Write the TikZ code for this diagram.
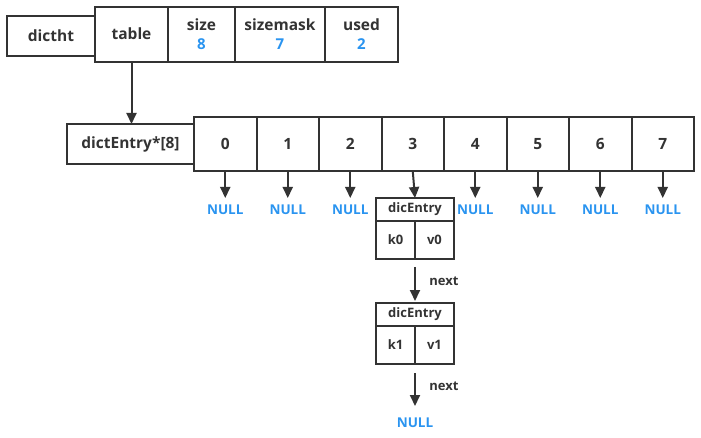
\documentclass[tikz,border=0pt]{standalone}
\usepackage{fontspec}
\setmainfont{Open Sans}
\usetikzlibrary{arrows.meta}
\definecolor{ink}{HTML}{333333}
\definecolor{nullblue}{HTML}{2A94F0}
\begin{document}
\begin{tikzpicture}[x=1pt,y=-1pt,
  box/.style={draw=ink,line width=2pt},
  lbl/.style={text=ink,font=\bfseries\fontsize{15.5}{17}\selectfont},
  small/.style={text=ink,font=\bfseries\fontsize{13}{15}\selectfont},
  num/.style={text=nullblue,font=\bfseries\fontsize{15}{17}\selectfont},
  nul/.style={text=nullblue,font=\bfseries\fontsize{13.5}{15}\selectfont},
  link/.style={draw=ink,line width=2pt,-{Triangle[length=11pt,width=10pt]}}]
\useasboundingbox (0,0) rectangle (701,438);

% dictht header
\draw[box] (7,16) rectangle (95,56);
\node[lbl] (dictht) at (51,36) {dictht};
\draw[box] (95,7) rectangle (398,62);
\foreach \x in {168,235,325} \draw[box] (\x,7) -- (\x,62);
\node[lbl] (table) at (131.5,34) {table};
\node[lbl] (size) at (201.5,25) {size};
\node[num] at (201.5,44) {8};
\node[lbl] (sizemask) at (280,25) {sizemask};
\node[num] at (280,44) {7};
\node[lbl] (used) at (361.5,25) {used};
\node[num] at (361.5,44) {2};
\coordinate (tbot) at (131.5,62);

% bucket array
\draw[box] (67,124) rectangle (194,164);
\node[lbl] (arr) at (130.5,144) {dictEntry*[8]};
\draw[box] (194,117) rectangle (694,171);
\foreach \i in {1,...,7} \draw[box] ({194+62.5*\i},117) -- ({194+62.5*\i},171);
\foreach \i in {0,...,7} {
  \node[lbl] (c\i) at ({225.25+62.5*\i},144) {\i};
  \coordinate (b\i) at ({225.25+62.5*\i},171);
}
\coordinate (atop) at (131.5,124);
\draw[link] (tbot) -- (atop);

% empty buckets
\foreach \i in {0,1,2,4,5,6,7} {
  \node[nul] (n\i) at ({225.25+62.5*\i},210) {NULL};
  \coordinate (t\i) at ({225.25+62.5*\i},198);
  \draw[link] (b\i) -- (t\i);
}

% first entry
\draw[box] (376,198) rectangle (454,259);
\draw[box] (376,221) -- (454,221);
\draw[box] (415,221) -- (415,259);
\node[small] (e0) at (415,209.5) {dicEntry};
\node[small] (k0) at (395.5,240) {k0};
\node[small] (v0) at (434.5,240) {v0};
\coordinate (e0top) at (415,198);
\draw[link] (b3) -- (e0top);

% second entry
\draw[box] (376,303) rectangle (454,364);
\draw[box] (376,326) -- (454,326);
\draw[box] (415,326) -- (415,364);
\node[small] (e1) at (415,314.5) {dicEntry};
\node[small] (k1) at (395.5,345) {k1};
\node[small] (v1) at (434.5,345) {v1};
\coordinate (e0bot) at (415,267);
\coordinate (e1top) at (415,301);
\draw[link] (e0bot) -- (e1top);
\node[small] (next0) at (444,281) {next};

% terminator
\coordinate (e1bot) at (415,373);
\coordinate (endtip) at (415,406);
\draw[link] (e1bot) -- (endtip);
\node[small] (next1) at (444,386) {next};
\node[nul] (nend) at (415,423) {NULL};
\end{tikzpicture}
\end{document}
